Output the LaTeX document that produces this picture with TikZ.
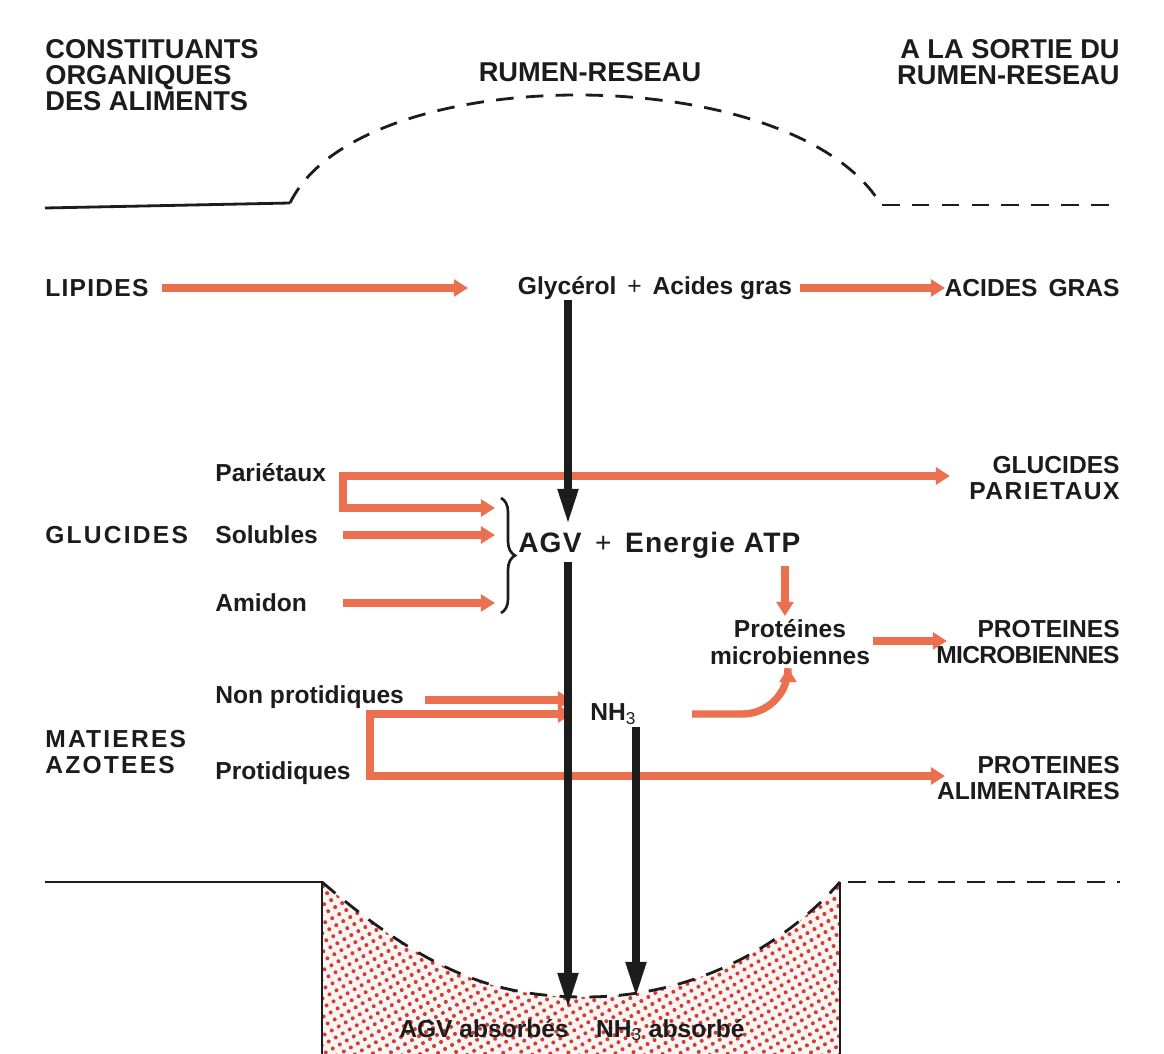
\documentclass[tikz,border=0pt]{standalone}
\usepackage{fontspec}
\setmainfont{Liberation Sans}
\usetikzlibrary{arrows.meta,decorations.pathreplacing,patterns.meta}

\definecolor{flux}{RGB}{234,112,80}
\definecolor{ink}{RGB}{28,28,28}
\definecolor{dotred}{RGB}{208,62,50}

\begin{document}
\begin{tikzpicture}[x=0.02cm,y=-0.02cm,
  lab/.style={font=\bfseries\fontsize{14}{17}\selectfont, text=ink, inner sep=0pt},
  capslab/.style={font=\bfseries\fontsize{14}{15}\selectfont, text=ink, inner sep=0pt},
  widecaps/.style={font=\bfseries\fontsize{14}{15}\selectfont\addfontfeatures{LetterSpace=9},
    text=ink, inner sep=0pt},
  headlab/.style={font=\bfseries\fontsize{15.5}{15}\selectfont, text=ink, inner sep=0pt},
  flow/.style={draw=flux, line width=4.2pt, -{Triangle[width=9.5pt,length=8pt]}},
  sink/.style={draw=ink, line width=4pt, -{Triangle[width=11pt,length=20pt]}},
  wall/.style={draw=ink, line width=1.6pt},
  wallgap/.style={wall, dash pattern=on 10pt off 7pt},
]
\useasboundingbox (0,0) rectangle (1164,1054);

% ---- headings
\node[headlab, anchor=west, align=left] (hdrL) at (45,75) {CONSTITUANTS\\ORGANIQUES\\DES ALIMENTS};
\node[headlab] (hdrM) at (590,72) {RUMEN-RESEAU};
\node[headlab, anchor=east, align=right] (hdrR) at (1120,62) {A LA SORTIE DU\\RUMEN-RESEAU};

% ---- rumen outline (top)
\draw[wall] (45,208) -- (290,203);
\draw[wallgap] (290,203) .. controls (360,59) and (790,59) .. (880,203);
\draw[wallgap] (882,205) -- (1120,205);

% ---- absorption pocket (bottom)
\fill[dotred!6] (322,882) .. controls (430,975) and (500,997) .. (585,997)
  .. controls (690,997) and (780,950) .. (840,882) -- (840,1054) -- (322,1054) -- cycle;
\fill[pattern={Dots[distance=4.6pt, radius=1.15pt, angle=30]}, pattern color=dotred]
  (322,882) .. controls (430,975) and (500,997) .. (585,997)
  .. controls (690,997) and (780,950) .. (840,882) -- (840,1054) -- (322,1054) -- cycle;
\draw[wall] (45,882) -- (322,882) -- (322,1054);
\draw[wall] (840,1054) -- (840,882);
\draw[wallgap] (322,882) .. controls (430,975) and (500,997) .. (585,997)
  .. controls (690,997) and (780,950) .. (840,882);
\draw[wallgap] (848,882) -- (1120,882);

% ---- lipides
\node[capslab, anchor=west, font=\bfseries\fontsize{14}{15}\selectfont\addfontfeatures{LetterSpace=5}]
  (lip) at (45,288) {LIPIDES};
\node[lab] (glyc) at (655,288) {Glycérol \,{\mdseries +}\, Acides gras};
\node[capslab, anchor=east] (agras) at (1120,288) {ACIDES \,GRAS};
\coordinate (lipA) at (162,288);
\coordinate (lipB) at (468,288);
\coordinate (glyA) at (800,288);
\coordinate (glyB) at (945,288);
\draw[flow] (lipA) -- (lipB);
\draw[flow] (glyA) -- (glyB);

% ---- glucides
\node[widecaps, anchor=west] (glu) at (45,535) {GLUCIDES};
\node[lab, anchor=west] (par) at (215,473) {Pariétaux};
\node[lab, anchor=west] (sol) at (215,535) {Solubles};
\node[lab, anchor=west] (ami) at (215,603) {Amidon};
\node[capslab, anchor=east, align=right] (gpar) at (1120,478)
  {GLUCIDES\\{\addfontfeatures{LetterSpace=6}PARIETAUX}};
\node[lab, anchor=west, font=\bfseries\fontsize{16}{18}\selectfont\addfontfeatures{LetterSpace=4}]
  (agv) at (518,545) {AGV \,{\mdseries +}\, Energie ATP};

\coordinate (parA) at (343,476);
\coordinate (parB) at (343,508);
\coordinate (parT) at (950,476);
\coordinate (brT) at (495,508);
\coordinate (solA) at (343,535);
\coordinate (solT) at (495,535);
\coordinate (amiA) at (343,603);
\coordinate (amiT) at (495,603);
\draw[flow] (parB) -- (parA) -- (parT);
\draw[flow] (parA) -- (parB) -- (brT);
\draw[flow] (solA) -- (solT);
\draw[flow] (amiA) -- (amiT);
\draw[ink, line width=1.5pt, decorate, decoration={brace, amplitude=8pt}]
  (501,498) -- (501,613);

% ---- microbial proteins
\node[lab, align=center] (protm) at (790,642) {Protéines\\[-2pt]microbiennes};
\node[capslab, anchor=east, align=right] (PROTM) at (1120,642)
  {PROTEINES\\{\addfontfeatures{LetterSpace=-3}MICROBIENNES}};
\coordinate (atpA) at (785,566);
\coordinate (atpB) at (785,616);
\coordinate (pmA) at (873,641);
\coordinate (pmB) at (947,641);
\draw[flow] (atpA) -- (atpB);
\draw[flow] (pmA) -- (pmB);

% ---- matieres azotees
\node[widecaps, anchor=west, align=left] (mat) at (45,752) {MATIERES\\AZOTEES};
\node[lab, anchor=west] (nonp) at (215,697) {Non protidiques};
\node[lab, anchor=west] (prot) at (215,773) {Protidiques};
\node[lab, anchor=west] (nh3) at (590,714) {NH\textsubscript{\mdseries 3}};
\node[capslab, anchor=east, align=right] (palim) at (1120,778) {PROTEINES\\ALIMENTAIRES};

\coordinate (npA) at (425,700);
\coordinate (npB) at (572,700);
\coordinate (prA) at (370,776);
\coordinate (prB) at (370,714);
\coordinate (prT) at (572,714);
\coordinate (paT) at (945,776);
\coordinate (nhA) at (692,714);
\coordinate (nhK) at (788,714);
\coordinate (nhB) at (788,668);
\draw[flow] (npA) -- (npB);
\draw[flow] (prA) -- (prB) -- (prT);
\draw[flow] (prB) -- (prA) -- (paT);
\draw[flow, rounded corners=26] (nhA) -- (nhK) -- (nhB);

% ---- absorption
\node[lab] (abs) at (572,1030)
  {AGV absorbés \;\; NH\textsubscript{\mdseries 3} absorbé};

\coordinate (gA) at (568,300);
\coordinate (gB) at (568,524);
\coordinate (vA) at (568,562);
\coordinate (vB) at (568,1008);
\coordinate (nA) at (636,727);
\coordinate (nB) at (636,997);
\draw[sink] (gA) -- (gB);
\draw[sink] (vA) -- (vB);
\draw[sink] (nA) -- (nB);
\end{tikzpicture}
\end{document}
